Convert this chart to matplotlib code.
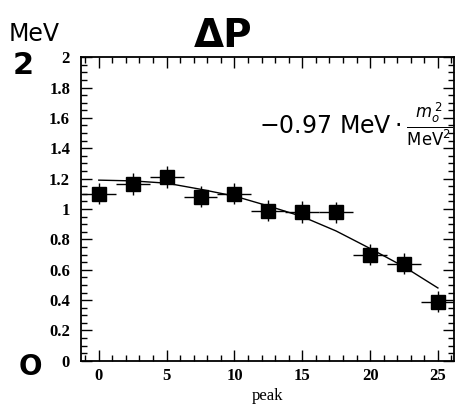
import matplotlib.pyplot as plt
from matplotlib.ticker import MultipleLocator

# data
peak = [0, 2.5, 5, 7.5, 10, 12.5, 15, 17.5, 20, 22.5, 25]
value = [1.10, 1.165, 1.21, 1.08, 1.10, 0.99, 0.98, 0.978, 0.70, 0.64, 0.39]
xerr = [1.25] * len(peak)
yerr = [0.07] * len(peak)

fit_x = [0, 2.5, 5, 7.5, 10, 12.5, 15, 17.5, 20, 22.5, 25]
fit_y = [1.19, 1.185, 1.17, 1.13, 1.085, 1.02, 0.95, 0.855, 0.74, 0.62, 0.48]

plt.rcParams['font.family'] = ['Liberation Serif', 'DejaVu Serif']

fig = plt.figure(figsize=(4.56, 4.11), dpi=100)
ax = fig.add_axes([0.178, 0.122, 0.818, 0.739])

ax.plot(fit_x, fit_y, color='black', lw=1.0)
ax.errorbar(peak, value, xerr=xerr, yerr=yerr, fmt='s', color='black',
            ms=10, elinewidth=1.0, capsize=0)

ax.set_xlim(-1.3, 26.2)
ax.set_ylim(0, 2)
ax.xaxis.set_major_locator(MultipleLocator(5))
ax.xaxis.set_minor_locator(MultipleLocator(1))
ax.yaxis.set_minor_locator(MultipleLocator(0.05))
ax.tick_params(which='both', direction='in', top=True, right=True,
               labelsize=12, width=1.0)
ax.tick_params(axis='y', pad=8)
ax.tick_params(axis='x', pad=5)
ax.tick_params(which='major', length=8)
ax.tick_params(which='minor', length=4)
ax.set_yticks([0, 0.2, 0.4, 0.6, 0.8, 1, 1.2, 1.4, 1.6, 1.8, 2])
ax.set_yticklabels(['0', '0.2', '0.4', '0.6', '0.8', '1', '1.2', '1.4', '1.6', '1.8', '2'])
for lab in ax.get_xticklabels() + ax.get_yticklabels():
    lab.set_fontweight('bold')
for s in ax.spines.values():
    s.set_linewidth(1.3)
ax.set_xlabel('peak', fontsize=12, labelpad=3)

# handwritten notes
hand = ['DejaVu Sans']
fig.text(0.018, 0.9, 'MeV', fontsize=17, family=hand)
fig.text(0.028, 0.82, '2', fontsize=22, family=hand, fontweight='bold')
fig.text(0.04, 0.088, 'O', fontsize=20, family=hand, fontweight='bold')
fig.text(0.425, 0.885, 'ΔP', fontsize=28, family=hand, fontweight='bold')
ax.text(11.8, 1.56, r'$-0.97\ \mathrm{MeV}\cdot\frac{m_o^{\,2}}{\mathrm{MeV}^2}$',
        fontsize=17, ha='left', va='center')

fig.savefig('out.png', dpi=100)
